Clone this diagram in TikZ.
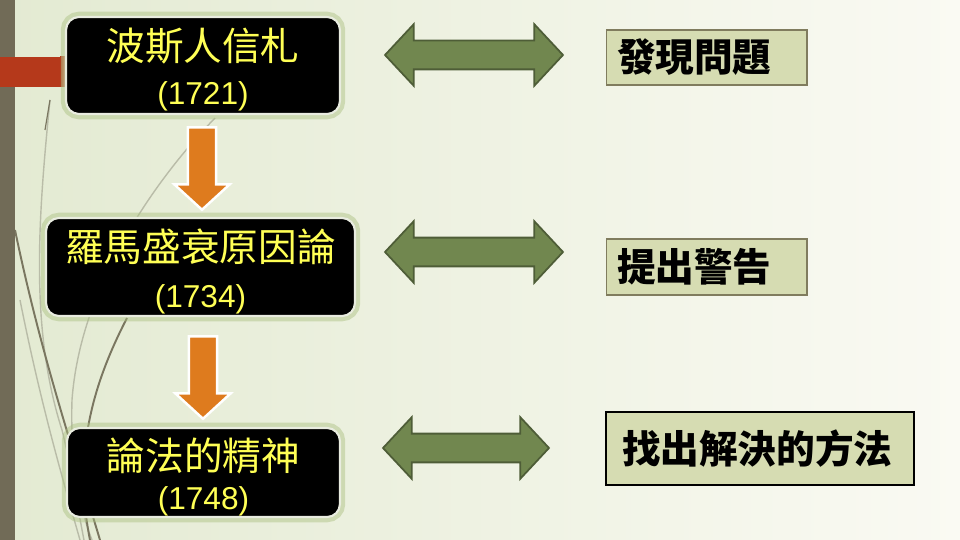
\documentclass[tikz,border=0pt]{standalone}
\usepackage{fontspec}
\setmainfont{Liberation Sans}
\newfontfamily\cjk{Noto Sans CJK TC}
\usetikzlibrary{shapes.arrows,positioning,calc}
\definecolor{Olive}{HTML}{716B57}
\definecolor{Brick}{HTML}{B5391B}
\definecolor{BgLeft}{HTML}{E3EAD2}
\definecolor{BgRight}{HTML}{FAFAF3}
\definecolor{Glow}{HTML}{A9BF7E}
\definecolor{Rim}{HTML}{E9ECE0}
\definecolor{Gold}{HTML}{FFFF55}
\definecolor{Carrot}{HTML}{DE7B1E}
\definecolor{Moss}{HTML}{71874F}
\definecolor{MossDark}{HTML}{4E5D37}
\definecolor{Sage}{HTML}{D6DCB2}
\definecolor{SageLine}{HTML}{807C5E}
\definecolor{Thread}{HTML}{7A7660}
\definecolor{ThreadSoft}{HTML}{B9BCA8}
\newcommand\yearfont{\rmfamily\fontsize{18}{22}\selectfont}
\newcommand\topstrut{\rule{0pt}{23.5pt}}
\tikzset{
  work/.style={fill=black,draw=Rim,line width=1.2pt,rounded corners=.26cm,align=center,text=Gold,inner sep=0pt,
    font=\cjk\fontsize{22}{27}\selectfont,preaction={draw=Glow,line width=6pt,opacity=.45}},
  verdict/.style={fill=Sage,draw=SageLine,line width=.6pt,align=left,inner xsep=.22cm,inner ysep=0pt,
    font=\cjk\bfseries\fontsize{22}{26}\selectfont},
  downflow/.style={single arrow,rotate=-90,anchor=tail,fill=Carrot,draw=white,line width=1.4pt,inner xsep=0pt,inner ysep=.26cm,
    minimum height=1.65cm,minimum width=1.06cm,single arrow head extend=.27cm,single arrow tip angle=95},
  link/.style={double arrow,fill=Moss,draw=MossDark,line width=1pt,inner xsep=0pt,inner ysep=.27cm,
    minimum height=3.56cm,minimum width=1.2cm,double arrow head extend=.33cm,double arrow tip angle=94},
  thread/.style={draw=Thread,line width=1.1pt},
  softthread/.style={draw=ThreadSoft,line width=.8pt}
}
\begin{document}
\begin{tikzpicture}[x=.02cm,y=-.02cm]
  \useasboundingbox (0,0) rectangle (960,540);
  % slide background
  \fill[left color=BgLeft,right color=BgRight] (0,0) rectangle (960,540);
  \draw[softthread] (50,100) .. controls (38,220) and (30,330) .. (62,430) .. controls (72,470) and (78,510) .. (84,540);
  \draw[softthread] (215,118) .. controls (150,185) and (80,290) .. (72,400) .. controls (70,460) and (80,510) .. (92,540);
  \draw[softthread] (20,300) .. controls (40,400) and (60,470) .. (80,540);
  \draw[thread] (15,230) .. controls (40,350) and (70,440) .. (100,540);
  \draw[thread] (127,318) .. controls (95,380) and (72,450) .. (90,540);
  \draw[thread,line width=.7pt] (50,100) -- (45,130);
  \fill[Olive] (0,0) rectangle (15,540);
  \fill[Brick] (0,57) rectangle (60,87);
  \fill[left color=Brick,right color=Brick!35!BgLeft] (60,57) rectangle (66,87);

  % works, left column
  \node[work,minimum width=5.48cm,minimum height=1.94cm] (persian) at (203,65.5)
    {\topstrut 波斯人信札\\[-2pt]{\yearfont (1721)}};
  \node[work,minimum width=6.18cm,minimum height=1.96cm] (rome) at (200.5,267)
    {\topstrut 羅馬盛衰原因論\\[-1pt]{\yearfont (1734)}};
  \node[work,minimum width=5.46cm,minimum height=1.78cm] (laws) at (203.5,472.5)
    {\topstrut 論法的精神\\[-5pt]{\yearfont (1748)}};

  \node[downflow] (d1) at ($(persian.south)+(-1,11)$) {};
  \node[downflow] (d2) at ($(rome.south)+(2.5,18)$) {};

  % what each work does
  \node[verdict,text width=3.58cm,minimum height=1.1cm] (found) at (706.5,57.5) {發現問題};
  \node[verdict,text width=3.58cm,minimum height=1.12cm] (warn) at (706.5,267) {提出警告};
  \node[verdict,draw=black,line width=1.2pt,text width=5.52cm,inner xsep=.32cm,minimum height=1.46cm] (remedy) at (760,448.5) {找出解決的方法};

  \node[link] (l1) at (474,55) {};
  \node[link] (l2) at (474,252) {};
  \node[link,minimum height=3.32cm] (l3) at (466,448) {};
\end{tikzpicture}
\end{document}
